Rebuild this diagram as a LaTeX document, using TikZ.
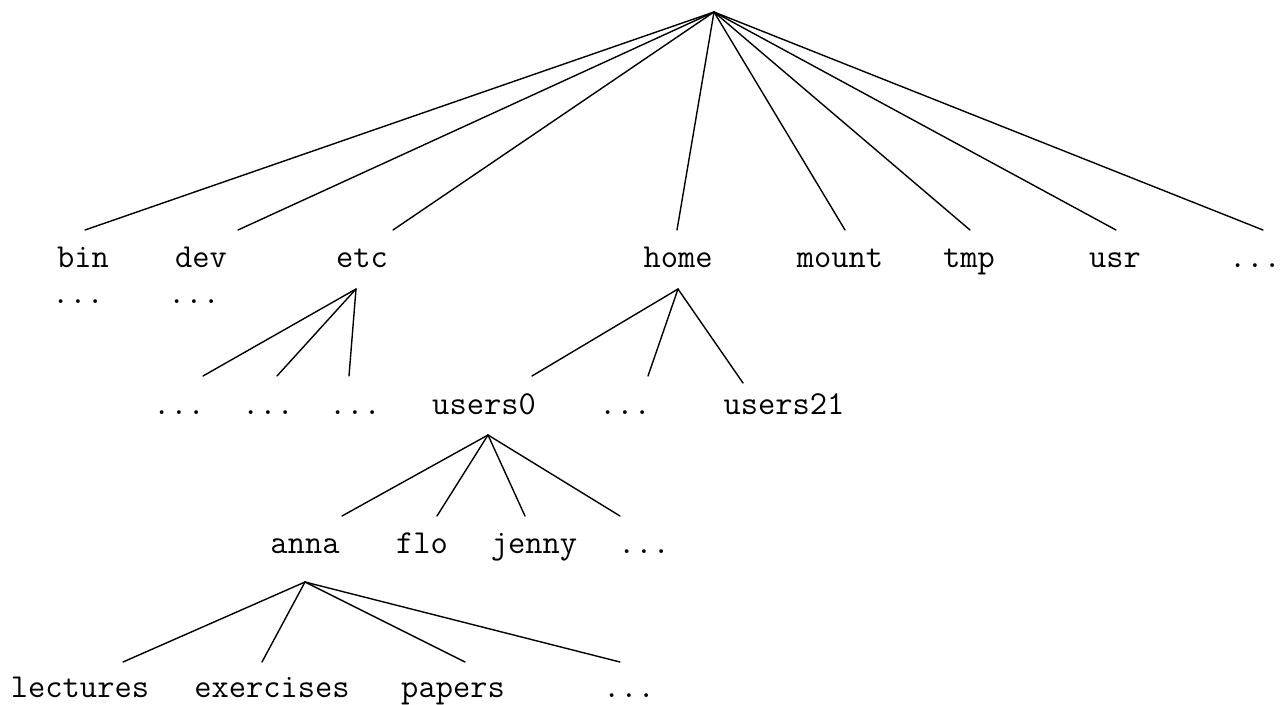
\documentclass[tikz,border=0pt]{standalone}
\begin{document}
\begin{tikzpicture}[x=1pt,y=-1pt,
  lbl/.style={font=\ttfamily\fontsize{33.5}{40}\selectfont, inner sep=0pt, anchor=base},
  branch/.style={line width=1.4pt, line cap=round}]
\useasboundingbox (0,0) rectangle (1282,704);

% ---- directory names ----
% level 1
\node[lbl] (bin)   at (83,267)   {bin};
\node[lbl] (dev)   at (201,267)  {dev};
\node[lbl] (etc)   at (362,267)  {etc};
\node[lbl] (home)  at (678,267)  {home};
\node[lbl] (mount) at (840,267)  {mount};
\node[lbl] (tmp)   at (969,267)  {tmp};
\node[lbl] (usr)   at (1115,267) {usr};
\node[lbl] (more1) at (1255,267) {...};
\node[lbl] (binsub) at (78,303)  {...};
\node[lbl] (devsub) at (194,303) {...};
% level 2
\node[lbl] (etca)    at (179,414) {...};
\node[lbl] (etcb)    at (268,414) {...};
\node[lbl] (etcc)    at (355,414) {...};
\node[lbl] (users0)  at (484,414) {users0};
\node[lbl] (usersx)  at (625,414) {...};
\node[lbl] (users21) at (784,414) {users21};
% level 3
\node[lbl] (anna)  at (305,553) {anna};
\node[lbl] (flo)   at (422,553) {flo};
\node[lbl] (jenny) at (534,553) {jenny};
\node[lbl] (more3) at (644,553) {...};
% level 4
\node[lbl] (lectures)  at (80,697)  {lectures};
\node[lbl] (exercises) at (272,697) {exercises};
\node[lbl] (papers)    at (453,697) {papers};
\node[lbl] (more4)     at (629,697) {...};

% ---- branching points and line ends ----
\coordinate (root)     at (714,12);
\coordinate (etc-o)    at (356,289);
\coordinate (home-o)   at (678,289);
\coordinate (users0-o) at (488,435);
\coordinate (anna-o)   at (305,582);

\coordinate (bin-i)   at (85,230);
\coordinate (dev-i)   at (238,230);
\coordinate (etc-i)   at (393,230);
\coordinate (home-i)  at (677,230);
\coordinate (mount-i) at (845,230);
\coordinate (tmp-i)   at (970,230);
\coordinate (usr-i)   at (1116,230);
\coordinate (more1-i) at (1263,230);

\coordinate (etca-i) at (203,376);
\coordinate (etcb-i) at (277,376);
\coordinate (etcc-i) at (349,376);
\coordinate (users0-i)  at (532,376);
\coordinate (usersx-i)  at (648,376);
\coordinate (users21-i) at (743,383);

\coordinate (anna-i)  at (342,516);
\coordinate (flo-i)   at (437,516);
\coordinate (jenny-i) at (525,516);
\coordinate (more3-i) at (620,516);

\coordinate (lectures-i)  at (123,662);
\coordinate (exercises-i) at (262,662);
\coordinate (papers-i)    at (465,662);
\coordinate (more4-i)     at (620,662);

% ---- branches ----
\foreach \c in {bin,dev,etc,home,mount,tmp,usr,more1}
  \draw[branch] (root) -- (\c-i);
\foreach \c in {etca,etcb,etcc}
  \draw[branch] (etc-o) -- (\c-i);
\foreach \c in {users0,usersx,users21}
  \draw[branch] (home-o) -- (\c-i);
\foreach \c in {anna,flo,jenny,more3}
  \draw[branch] (users0-o) -- (\c-i);
\foreach \c in {lectures,exercises,papers,more4}
  \draw[branch] (anna-o) -- (\c-i);
\end{tikzpicture}
\end{document}
